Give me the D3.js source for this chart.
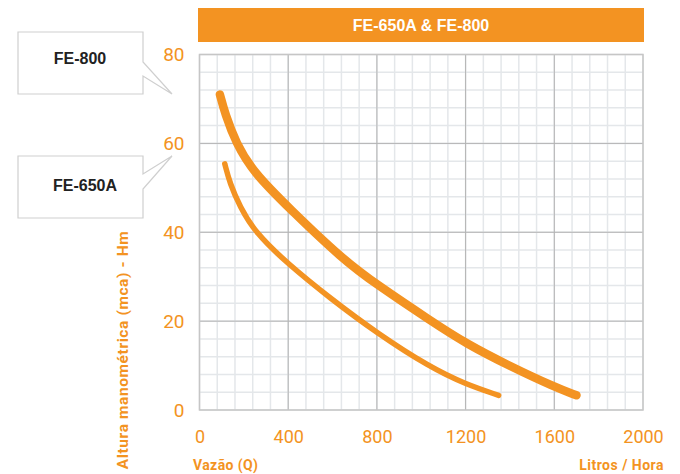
<!DOCTYPE html>
<html><head><meta charset="utf-8">
<script src="https://cdn.jsdelivr.net/npm/d3@7"></script>
<style>
html,body{margin:0;padding:0;background:#fff;}
svg{display:block;}
</style></head>
<body><svg id="c" width="680" height="474"></svg>
<script>
const title = "FE-650A & FE-800";
const seriesNames = ["FE-800", "FE-650A"];
const xTicks = [0, 400, 800, 1200, 1600, 2000];
const yTicks = [0, 20, 40, 60, 80];
// [vazão L/h, altura m]
const fe800 = [[92,71],[115,66.7],[165,60],[243,53.5],[400,45.6],[648,33.8],[800,28.2],[1045,20],[1200,15],[1402,9.8],[1600,5.2],[1700,3.3]];
const fe650a = [[114,55.4],[137,51],[182,45.8],[250,40],[400,32.8],[588,25.2],[800,17.3],[1040,9.6],[1200,5.8],[1349,3.3]];

const ORANGE = "#f39322";
const svg = d3.select("#c");
const x = d3.scaleLinear().domain([0,2000]).range([199.5,643]);
const y = d3.scaleLinear().domain([0,80]).range([410,54.5]);
const W = x.range()[1]-x.range()[0], H = y.range()[0]-y.range()[1];

// title bar
svg.append("rect").attr("x",198).attr("y",8).attr("width",446).attr("height",34).attr("fill",ORANGE);
svg.append("text").attr("x",421).attr("y",31).attr("text-anchor","middle")
  .attr("font-family","Liberation Sans, Arial, sans-serif").attr("font-weight","bold")
  .attr("font-size",16).attr("fill","#fff").text(title);

const g = svg.append("g");
// minor grid
const minorX = d3.range(0,2001,80), minorY = d3.range(0,81,4);
g.append("g").selectAll("line").data(minorX).join("line")
  .attr("x1",d=>x(d)).attr("x2",d=>x(d)).attr("y1",y(0)).attr("y2",y(80))
  .attr("stroke","#e4e7ea").attr("stroke-width",1.5);
g.append("g").selectAll("line").data(minorY).join("line")
  .attr("y1",d=>y(d)).attr("y2",d=>y(d)).attr("x1",x(0)).attr("x2",x(2000))
  .attr("stroke","#e4e7ea").attr("stroke-width",1.5);
// major grid
g.append("g").selectAll("line").data(xTicks.slice(1,-1)).join("line")
  .attr("x1",d=>x(d)).attr("x2",d=>x(d)).attr("y1",y(0)).attr("y2",y(80))
  .attr("stroke","#b3b3b3").attr("stroke-width",1);
g.append("g").selectAll("line").data(yTicks.slice(1,-1)).join("line")
  .attr("y1",d=>y(d)).attr("y2",d=>y(d)).attr("x1",x(0)).attr("x2",x(2000))
  .attr("stroke","#b3b3b3").attr("stroke-width",1);
g.append("rect").attr("x",x(0)).attr("y",y(80)).attr("width",W).attr("height",H)
  .attr("fill","none").attr("stroke","#c6c6c6").attr("stroke-width",1.5);

// axes labels
const yAxis = d3.axisLeft(y).tickValues(yTicks).tickSize(0).tickPadding(15).tickFormat(d3.format("d"));
const ya = svg.append("g").attr("transform",`translate(${x(0)},0)`).call(yAxis);
ya.select(".domain").remove();
ya.selectAll("text").attr("fill",ORANGE).attr("font-family","Roboto, sans-serif").attr("font-weight",400).attr("font-size",19);

const xAxis = d3.axisBottom(x).tickValues(xTicks).tickSize(0).tickPadding(20).tickFormat(d3.format("d"));
const xa = svg.append("g").attr("transform",`translate(0,${y(0)})`).call(xAxis);
xa.select(".domain").remove();
xa.selectAll("text").attr("fill",ORANGE).attr("font-family","Roboto, sans-serif").attr("font-weight",400).attr("font-size",18);

// axis titles
svg.append("text").attr("x",193).attr("y",470).attr("fill",ORANGE).attr("letter-spacing",0.4)
  .attr("font-family","Roboto, sans-serif").attr("font-weight","bold").attr("font-size",14).text("Vazão (Q)");
svg.append("text").attr("x",664).attr("y",470).attr("text-anchor","end").attr("fill",ORANGE).attr("letter-spacing",0.5)
  .attr("font-family","Roboto, sans-serif").attr("font-weight","bold").attr("font-size",14).text("Litros / Hora");
svg.append("text").attr("transform","translate(128,350) rotate(-90)").attr("text-anchor","middle").attr("fill",ORANGE)
  .attr("letter-spacing",0.6)
  .attr("font-family","Roboto, sans-serif").attr("font-weight","bold").attr("font-size",15.5).text("Altura manométrica (mca) - Hm");

// curves
const line = d3.line().x(d=>x(d[0])).y(d=>y(d[1])).curve(d3.curveBasis);
svg.append("path").attr("d",line(fe800)).attr("fill","none").attr("stroke",ORANGE)
  .attr("stroke-width",8.5).attr("stroke-linecap","round");
svg.append("path").attr("d",line(fe650a)).attr("fill","none").attr("stroke",ORANGE)
  .attr("stroke-width",5.5).attr("stroke-linecap","round");

// callouts
const callouts = [
  {name: seriesNames[0], path:"M18,32H143V62L172,94L143,76V94H18Z", tx:80, ty:64},
  {name: seriesNames[1], path:"M18,156H143V174L172,156L143,189V218H18Z", tx:85, ty:191}
];
callouts.forEach(c=>{
  svg.append("path").attr("d",c.path).attr("fill","#fff").attr("stroke","#cfcfcf").attr("stroke-width",1.2);
  svg.append("text").attr("x",c.tx).attr("y",c.ty).attr("text-anchor","middle")
    .attr("font-family","Liberation Sans, Arial, sans-serif").attr("font-weight","bold")
    .attr("font-size",16).attr("fill","#222").text(c.name);
});
</script></body></html>
